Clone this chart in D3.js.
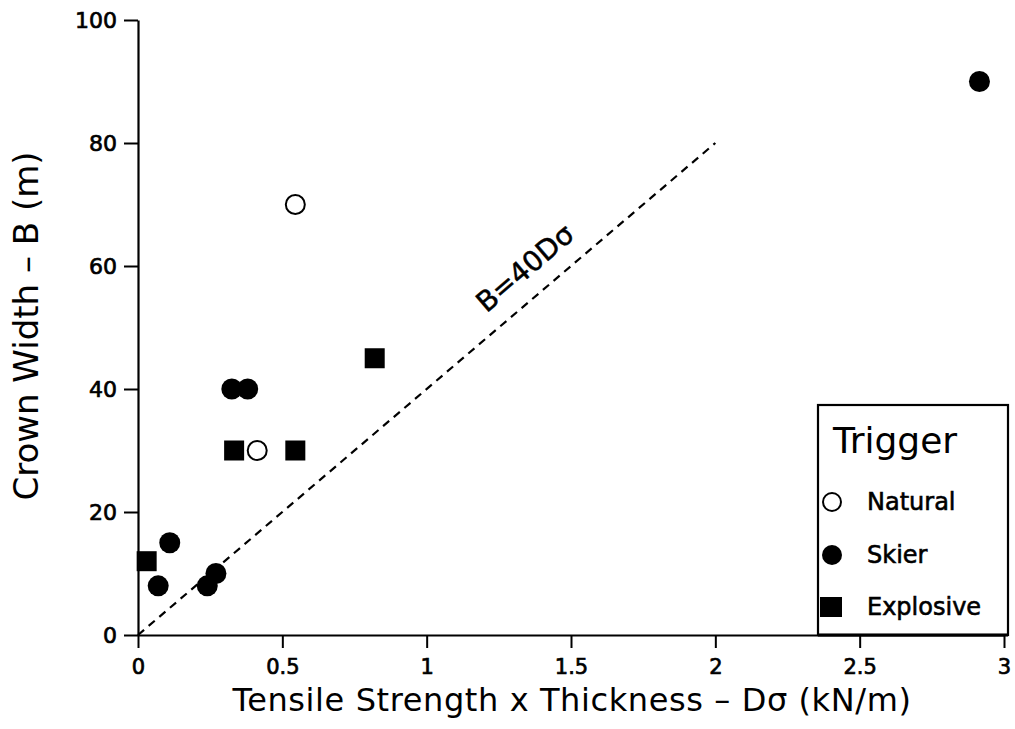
<!DOCTYPE html>
<html><head><meta charset="utf-8">
<script src="https://cdn.jsdelivr.net/npm/d3@7"></script>
<style>body{margin:0;background:#fff}svg{display:block}text{font-family:"DejaVu Sans",sans-serif;fill:#000}</style>
</head><body><svg id="c" width="1015" height="729"></svg>
<script>
// Data
const naturalX = [0.545, 0.413];
const naturalY = [70, 30];
const skierX = [0.07, 0.11, 0.24, 0.27, 0.325, 0.38, 2.915];
const skierY = [8, 15, 8, 10, 40, 40, 90];
const explosiveX = [0.03, 0.333, 0.545, 0.82];
const explosiveY = [12, 30, 30, 45];
const xTicks = [0, 0.5, 1, 1.5, 2, 2.5, 3];
const xTickLabels = ["0", "0.5", "1", "1.5", "2", "2.5", "3"];
const yTicks = [0, 20, 40, 60, 80, 100];
const lineX = [0, 2];
const lineY = [0, 80];
const legendLabels = ["Natural", "Skier", "Explosive"];

const svg = d3.select("#c");
const x = d3.scaleLinear().domain([0, 3]).range([138, 1004]);
const y = d3.scaleLinear().domain([0, 100]).range([635, 20]);

// axes
const xAxis = d3.axisBottom(x).tickValues(xTicks).tickFormat((d,i)=>xTickLabels[i]).tickSize(13).tickSizeOuter(0);
const gx = svg.append("g").attr("transform", `translate(0,${y(0)})`).call(xAxis);
gx.select(".domain").attr("stroke-width", 2.2);
gx.selectAll(".tick line").attr("stroke-width", 2);
gx.selectAll(".tick text").attr("font-size", 21).attr("dy", 0).attr("y", 39)
  .attr("stroke", "#000").attr("stroke-width", 0.7);

const yAxis = d3.axisLeft(y).tickValues(yTicks).tickSize(14).tickSizeOuter(0);
const gy = svg.append("g").attr("transform", `translate(${x(0)},0)`).call(yAxis);
gy.select(".domain").attr("stroke-width", 2.2);
gy.selectAll(".tick line").attr("stroke-width", 2);
gy.selectAll(".tick text").attr("font-size", 22).attr("x", -21)
  .attr("stroke", "#000").attr("stroke-width", 0.7);

// titles
svg.append("text").attr("x", 572).attr("y", 711).attr("text-anchor", "middle").attr("font-size", 32)
  .attr("letter-spacing", 0.6)
  .text("Tensile Strength x Thickness \u2013 D\u03c3 (kN/m)");
svg.append("text").attr("transform", "translate(38,326) rotate(-90)").attr("text-anchor", "middle").attr("font-size", 34)
  .text("Crown Width \u2013 B (m)");

// dashed line
svg.append("line").attr("x1", x(lineX[0])).attr("y1", y(lineY[0])).attr("x2", x(lineX[1])).attr("y2", y(lineY[1]))
  .attr("stroke", "#000").attr("stroke-width", 2.2).attr("stroke-dasharray", "8,6");
const ang = Math.atan2(y(0) - y(40), x(1) - x(0)) * 180 / Math.PI;
svg.append("text").attr("transform", `translate(${x(1.34)},${y(59.7)}) rotate(${-ang})`).attr("text-anchor", "middle")
  .attr("dy", "0.35em").attr("font-size", 28).attr("stroke", "#000").attr("stroke-width", 0.5).text("B=40D\u03c3");

// points
svg.append("g").selectAll("circle").data(naturalX).join("circle")
  .attr("cx", d=>x(d)).attr("cy", (d,i)=>y(naturalY[i])).attr("r", 9.5)
  .attr("fill", "#fff").attr("stroke", "#000").attr("stroke-width", 2);
svg.append("g").selectAll("circle").data(skierX).join("circle")
  .attr("cx", d=>x(d)).attr("cy", (d,i)=>y(skierY[i])).attr("r", 10.5).attr("fill", "#000");
svg.append("g").selectAll("rect").data(explosiveX).join("rect")
  .attr("x", d=>x(d)-10).attr("y", (d,i)=>y(explosiveY[i])-10).attr("width", 20).attr("height", 20).attr("fill", "#000");

// legend
const lg = svg.append("g");
lg.append("rect").attr("x", 818).attr("y", 405).attr("width", 190).attr("height", 230)
  .attr("fill", "#fff").attr("stroke", "#000").attr("stroke-width", 2.2);
lg.append("text").attr("x", 833).attr("y", 453).attr("font-size", 36).text("Trigger");
const ly = [502, 555, 607];
lg.append("circle").attr("cx", 832).attr("cy", ly[0]).attr("r", 9).attr("fill", "#fff").attr("stroke", "#000").attr("stroke-width", 2);
lg.append("circle").attr("cx", 832).attr("cy", ly[1]).attr("r", 10).attr("fill", "#000");
lg.append("rect").attr("x", 820).attr("y", ly[2]-10).attr("width", 22).attr("height", 20).attr("fill", "#000");
lg.selectAll("text.l").data(legendLabels).join("text").attr("class", "l")
  .attr("x", 867).attr("y", (d,i)=>ly[i]+8).attr("font-size", 24).attr("stroke", "#000").attr("stroke-width", 0.6).text(d=>d);
svg.append("line").attr("x1", 818).attr("x2", 1008).attr("y1", 635).attr("y2", 635).attr("stroke", "#000").attr("stroke-width", 3);
</script></body></html>
